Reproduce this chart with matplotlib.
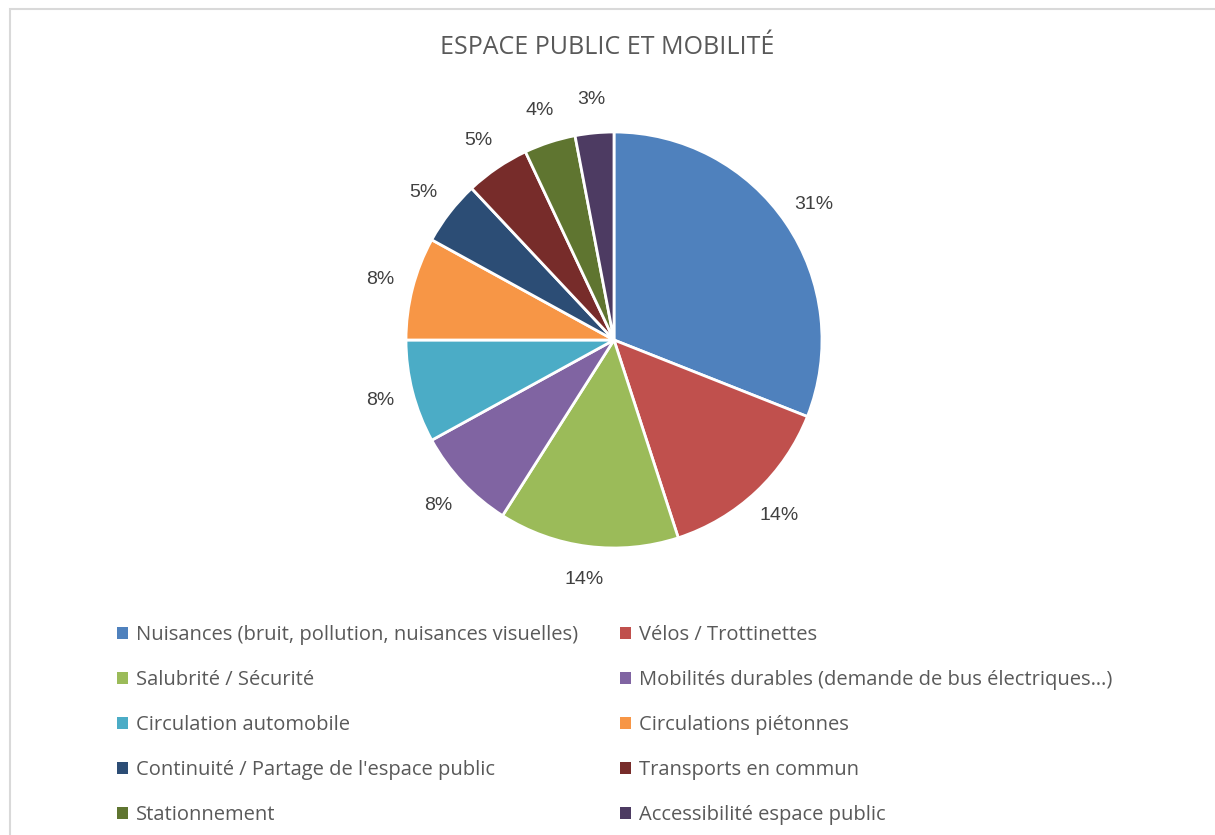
"""
Pie chart: Espace public et mobilité
"""

import matplotlib.pyplot as plt
from matplotlib.patches import Patch, Rectangle

categories = [
    "Nuisances (bruit, pollution, nuisances visuelles)",
    "Vélos / Trottinettes",
    "Salubrité / Sécurité",
    "Mobilités durables (demande de bus électriques…)",
    "Circulation automobile",
    "Circulations piétonnes",
    "Continuité / Partage de l'espace public",
    "Transports en commun",
    "Stationnement",
    "Accessibilité espace public",
]
shares = [31, 14, 14, 8, 8, 8, 5, 5, 4, 3]
colors = [
    "#4F81BD", "#C0504D", "#9BBB59", "#8064A2", "#4BACC6",
    "#F79646", "#2C4D75", "#772C2A", "#5F7530", "#4D3B62",
]

plt.rcParams["font.family"] = ["Open Sans", "DejaVu Sans"]
text_color = "#595959"

fig = plt.figure(figsize=(12.15, 8.35), dpi=100)

# light frame of the chart area
fig.patches.append(
    Rectangle((9.5 / 1215, -0.1), 1.2, (835 - 9.5) / 835 + 0.1,
              transform=fig.transFigure, fill=False,
              edgecolor="#D9D9D9", linewidth=1.5)
)

fig.text(0.5, 1 - 48 / 835, "ESPACE PUBLIC ET MOBILITÉ", ha="center", va="center",
         fontsize=18, color=text_color)

# pie
ax = fig.add_axes([(614 - 208) / 1215, (495 - 208) / 835, 416 / 1215, 416 / 835])
wedges, _, autotexts = ax.pie(
    shares,
    colors=colors,
    startangle=90,
    counterclock=False,
    autopct="%d%%",
    pctdistance=1.16,
    wedgeprops=dict(edgecolor="white", linewidth=2),
    textprops=dict(color="#404040", fontsize=14, family="Liberation Sans"),
)
ax.set_xlim(-1, 1)
ax.set_ylim(-1, 1)
ax.set_aspect("equal")

# legend, two columns filled row by row
for col in range(2):
    idx = list(range(col, len(categories), 2))
    handles = [Patch(facecolor=colors[i], edgecolor="none") for i in idx]
    labels = [categories[i] for i in idx]
    x0 = (117 if col == 0 else 620) / 1215
    fig.legend(
        handles, labels,
        loc="upper left",
        bbox_to_anchor=(x0, 1 - 625 / 835),
        frameon=False,
        fontsize=14.5,
        labelcolor=text_color,
        handlelength=0.55,
        handleheight=0.55,
        handletextpad=0.4,
        labelspacing=1.24,
        borderaxespad=0,
        borderpad=0,
    )

plt.savefig("out.png", dpi=100)
plt.close()
